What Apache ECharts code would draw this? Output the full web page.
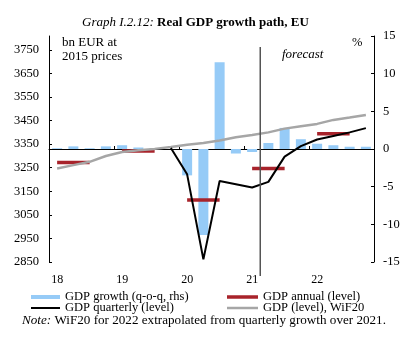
<!DOCTYPE html>
<html>
<head>
<meta charset="utf-8">
<script src="https://cdn.jsdelivr.net/npm/echarts@6/dist/echarts.min.js"></script>
<style>html,body{margin:0;padding:0;background:#fff;}#c{width:412px;height:353px;}</style>
</head>
<body>
<div id="c"></div>
<script>
const quarters = ['18Q1','18Q2','18Q3','18Q4','19Q1','19Q2','19Q3','19Q4','20Q1','20Q2','20Q3','20Q4','21Q1','21Q2','21Q3','21Q4','22Q1','22Q2','22Q3','22Q4'];
const yearLabels = ['18','19','20','21','22'];
const leftTicks = [2850,2950,3050,3150,3250,3350,3450,3550,3650,3750];
const growthQoQ = [0.1,0.35,0.1,0.35,0.5,0.2,0.1,0.0,-3.5,-11.4,11.5,-0.6,-0.4,0.8,2.8,1.3,0.7,0.5,0.3,0.3];
const gdpQuarterly = [null,null,null,null,null,null,null,3334,3222,2861,3194,3180,3166,3190,3297,3342,3370,3385,3400,3418];
const gdpWiF20 = [3247,3261,3275,3300,3317,3324,3330,3338,3348,3355,3366,3379,3389,3400,3416,3426,3436,3453,3463,3474];
const gdpAnnual = [3272,3321,3113,3247,3394];

const annualSeries = [];
gdpAnnual.forEach(v => { annualSeries.push(v, v, v, null); });

const FONT = 'Liberation Serif';
const chart = echarts.init(document.getElementById('c'), null, {renderer: 'canvas'});

function legendItem(name, left, top, w, h, color) {
  return {
    left: left, top: top, itemWidth: w, itemHeight: h, itemGap: 0, padding: 0,
    data: [{name: name, icon: 'rect', itemStyle: {color: color, borderWidth: 0}}],
    textStyle: {fontFamily: FONT, fontSize: 12.5, color: '#000'},
    selectedMode: false
  };
}

const option = {
  animation: false,
  title: {
    left: 77, top: 11,
    text: '{i|Graph I.2.12: }{b|Real GDP growth path, EU}',
    textStyle: {
      fontFamily: FONT, fontSize: 13, fontWeight: 'normal',
      rich: {
        i: {fontFamily: FONT, fontStyle: 'italic', fontWeight: 'normal', fontSize: 13, color: '#000'},
        b: {fontFamily: FONT, fontWeight: 'bold', fontSize: 13, color: '#000'}
      }
    }
  },
  grid: {left: 49, right: 38, top: 36, bottom: 91},
  legend: [
    legendItem('GDP growth (q-o-q, rhs)', 31, 290.5, 29, 4, '#96cbf7'),
    legendItem('GDP annual (level)', 227, 290.5, 31, 3.5, '#a8232b'),
    legendItem('GDP quarterly (level)', 31, 301.5, 29, 2, '#000'),
    legendItem('GDP (level), WiF20', 227, 301.5, 31, 2.5, '#a6a6a6')
  ],
  xAxis: [
    {
      type: 'category', data: quarters, position: 'bottom', boundaryGap: true,
      axisLine: {show: false, onZero: false}, axisTick: {show: false},
      axisLabel: {
        interval: 0, margin: 12, fontFamily: FONT, fontSize: 12, color: '#000',
        formatter: (v, i) => (i % 4 === 0 ? yearLabels[i / 4] : '')
      }
    },
    {
      type: 'category', data: quarters, position: 'bottom', boundaryGap: true,
      axisLine: {show: true, onZero: true, onZeroAxisIndex: 1, lineStyle: {color: '#000', width: 1}},
      axisTick: {show: true, inside: true, length: 3, interval: 3, lineStyle: {color: '#000'}},
      axisLabel: {show: false}
    }
  ],
  yAxis: [
    {
      type: 'value', position: 'left', min: 2850, max: 3809,
      splitLine: {show: false},
      axisLine: {show: true, lineStyle: {color: '#000', width: 1}},
      axisTick: {show: true, inside: true, length: 3, customValues: leftTicks, lineStyle: {color: '#000'}},
      axisLabel: {customValues: leftTicks, margin: 10, fontFamily: FONT, fontSize: 12.5, color: '#000',
        formatter: v => String(v)}
    },
    {
      type: 'value', position: 'right', min: -15, max: 15, interval: 5,
      splitLine: {show: false},
      axisLine: {show: true, lineStyle: {color: '#000', width: 1}},
      axisTick: {show: true, inside: true, length: 3, lineStyle: {color: '#000'}},
      axisLabel: {margin: 9, fontFamily: FONT, fontSize: 12.5, color: '#000'}
    }
  ],
  series: [
    {
      name: 'GDP growth (q-o-q, rhs)', type: 'bar', xAxisIndex: 0, yAxisIndex: 1,
      data: growthQoQ, barWidth: 10, itemStyle: {color: '#96cbf7'}, z: 1
    },
    {
      name: 'GDP annual (level)', type: 'line', xAxisIndex: 0, yAxisIndex: 0,
      data: annualSeries, connectNulls: false, showSymbol: false, symbol: 'none',
      lineStyle: {color: '#a8232b', width: 3.5}, itemStyle: {color: '#a8232b'}, z: 3
    },
    {
      name: 'GDP (level), WiF20', type: 'line', xAxisIndex: 0, yAxisIndex: 0,
      data: gdpWiF20, showSymbol: false, symbol: 'none',
      lineStyle: {color: '#a6a6a6', width: 2.5}, itemStyle: {color: '#a6a6a6'}, z: 4
    },
    {
      name: 'GDP quarterly (level)', type: 'line', xAxisIndex: 0, yAxisIndex: 0,
      data: gdpQuarterly, showSymbol: false, symbol: 'none',
      lineStyle: {color: '#000', width: 2}, itemStyle: {color: '#000'}, z: 5
    }
  ]
};
chart.setOption(option);

const xA = chart.convertToPixel({xAxisIndex: 0}, '21Q1');
const xB = chart.convertToPixel({xAxisIndex: 0}, '21Q2');
const xf = (xA + xB) / 2;

chart.setOption({
  graphic: [
    {type: 'line', shape: {x1: xf, y1: 47, x2: xf, y2: 276}, style: {stroke: '#555', lineWidth: 1.5}, z: 10},
    {type: 'text', left: 62, top: 36, style: {text: 'bn EUR at\n2015 prices', font: '13px "Liberation Serif"', fill: '#000', lineHeight: 14}},
    {type: 'text', left: 352, top: 36, style: {text: '%', font: '12.5px "Liberation Serif"', fill: '#000'}},
    {type: 'text', left: 282, top: 48, style: {text: 'forecast', font: 'italic 13px "Liberation Serif"', fill: '#000'}},
    {type: 'text', left: 22, top: 314, scaleX: 1.05, style: {
      text: '{i|Note:} WiF20 for 2022 extrapolated from quarterly growth over 2021.',
      font: '12.5px "Liberation Serif"', fill: '#000',
      rich: {i: {fontStyle: 'italic', fontFamily: FONT, fontSize: 12.5, fill: '#000'}}
    }}
  ]
});
</script>
</body>
</html>
